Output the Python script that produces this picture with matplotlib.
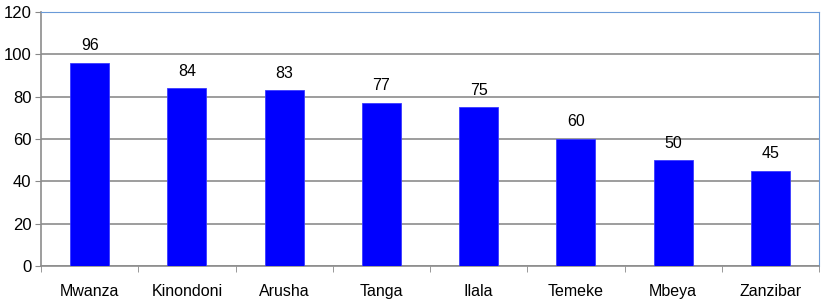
import matplotlib.pyplot as plt
import numpy as np

plt.rcParams['font.family'] = ['Liberation Sans', 'DejaVu Sans']

# data
regions = ["Mwanza", "Kinondoni", "Arusha", "Tanga", "Ilala", "Temeke", "Mbeya", "Zanzibar"]
values = [96, 84, 83, 77, 75, 60, 50, 45]

fig = plt.figure(figsize=(8.23, 3.01), dpi=100)
ax = fig.add_axes([41/823, 35/301, 778/823, 254/301])

x = np.arange(len(regions))
bars = ax.bar(x, values, width=0.4, color="#0000ff", edgecolor="#3a3aff", linewidth=0.6, zorder=3)

for xi, v in zip(x, values):
    ax.text(xi, v + 4.5, str(v), ha="center", va="bottom", fontsize=11.5)

ax.set_xlim(-0.5, len(regions) - 0.5)
ax.set_ylim(0, 120)
ax.set_yticks(np.arange(0, 121, 20))
ax.tick_params(axis="y", labelsize=12, length=4, color="#888888", pad=3)

ax.set_xticks(x)
ax.set_xticklabels(regions, fontsize=11.5)
ax.tick_params(axis="x", which="major", length=0, pad=13)
ax.set_xticks(np.arange(-0.5, len(regions), 1), minor=True)
ax.tick_params(axis="x", which="minor", length=4, color="#888888")

ax.yaxis.grid(True, color="#8c8c8c", linewidth=1.2, zorder=0)
ax.set_axisbelow(True)

ax.spines["left"].set_color("#8c8c8c")
ax.spines["bottom"].set_color("#8c8c8c")
ax.spines["left"].set_linewidth(1.2)
ax.spines["bottom"].set_linewidth(1.2)
ax.spines["top"].set_color("#6a9ad8")
ax.spines["right"].set_color("#6a9ad8")

plt.savefig("out.png", dpi=100)
